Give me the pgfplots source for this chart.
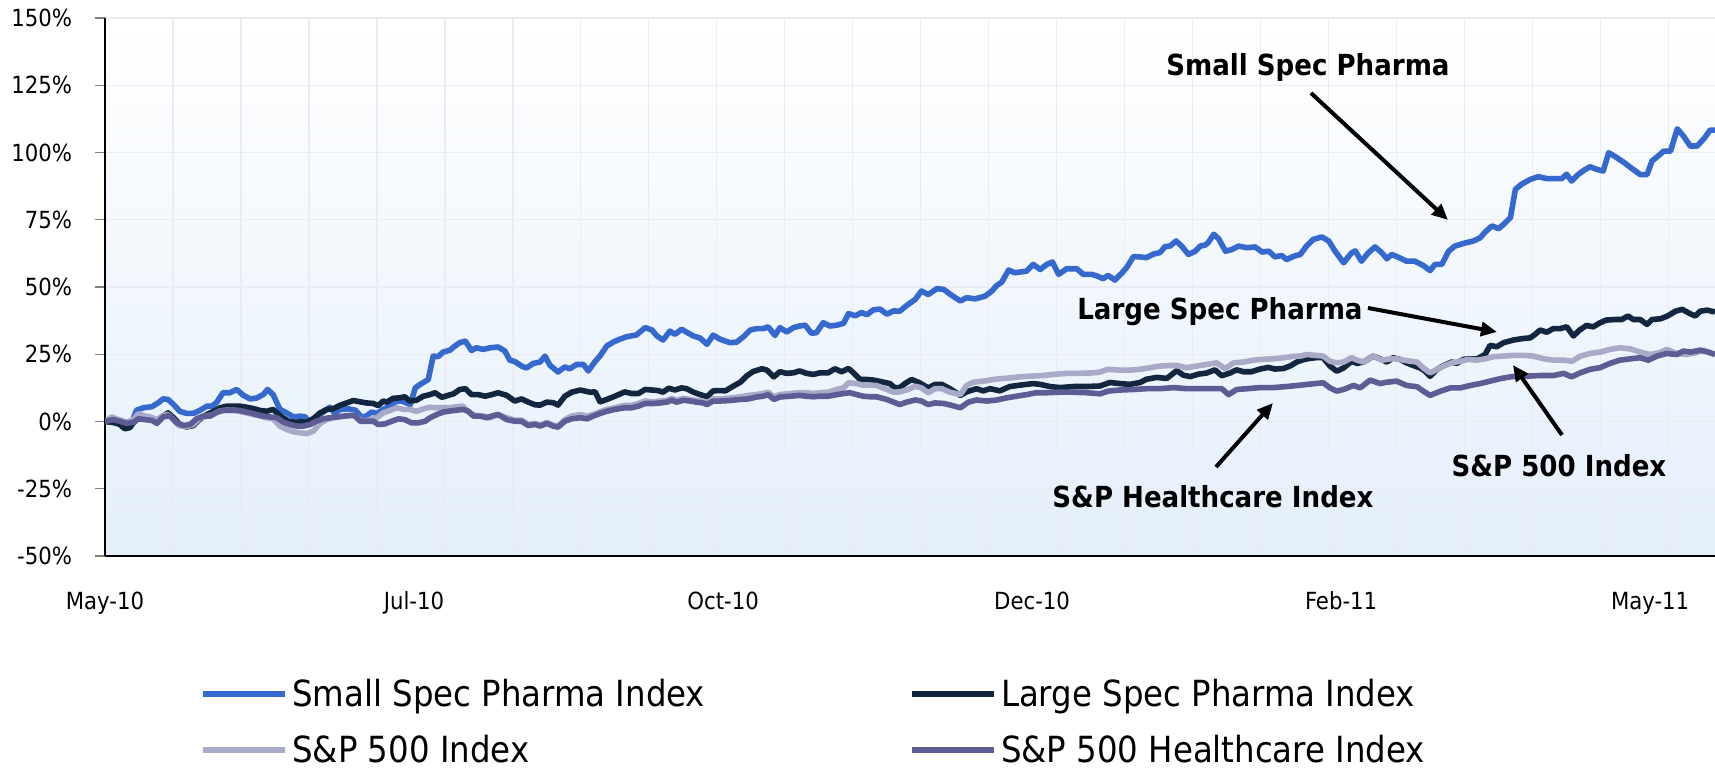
\documentclass[border=0pt]{standalone}
\usepackage{fontspec}
\setmainfont{DejaVu Sans Condensed}
\usepackage{pgfplots}
\usepackage{pgfplotstable}
\pgfplotsset{compat=1.18}
\usetikzlibrary{arrows.meta}

\definecolor{smallc}{RGB}{54,105,206}
\definecolor{largec}{RGB}{18,38,64}
\definecolor{spc}{RGB}{168,170,200}
\definecolor{hcc}{RGB}{94,92,148}
\definecolor{bgblue}{RGB}{228,239,251}
\definecolor{gridc}{RGB}{234,236,241}

% x = trading day since May-10, y = cumulative return in %
\pgfplotstableread{
x y
0 0
2.4 -0.7
3.5 -1.7
4.3 -0.5
5.1 4.2
6.2 5.1
7.6 5.5
8.6 6.9
9.4 8.4
10.2 8.2
11.1 6.3
12.1 3.8
13.2 3.0
14.3 3.0
15.4 4.2
16.5 5.7
17.3 5.7
18.1 7.2
19.1 10.7
20.2 10.7
21.3 11.9
22.4 9.7
23.5 8.4
24.5 8.7
25.6 10.0
26.3 11.9
27.2 10.0
28.3 4.5
29.4 3.2
30.5 1.7
31.6 2.0
32.4 1.7
32.9 0.1
33.7 1.0
35.1 3.2
36.4 5.3
37.2 3.0
38.0 4.5
39.4 4.7
40.5 4.2
41.5 1.7
42.3 2.0
43.1 3.5
44.0 3.0
45.0 4.5
46.1 5.7
47.2 7.6
48.0 7.6
48.8 6.9
49.4 6.3
50.2 12.5
51.0 13.8
52.3 15.6
53.1 24.3
53.9 24.1
54.7 25.8
55.8 26.5
56.6 28.0
57.4 29.3
58.3 29.9
59.3 26.4
60.1 27.4
61.2 26.8
62.3 27.4
63.6 27.7
64.7 26.2
65.5 22.8
66.3 22.3
67.4 20.6
68.2 19.9
69.3 21.6
70.4 22.1
71.2 24.3
72.0 20.9
73.3 18.4
74.4 20.3
75.2 19.6
76.3 21.2
77.4 21.2
78.2 18.8
79.3 22.3
80.1 24.4
81.2 28.1
82.3 29.6
83.3 30.6
84.4 31.5
86.0 32.2
87.4 34.9
88.5 34.0
89.3 31.8
90.3 30.3
91.4 33.6
92.2 32.4
93.3 34.3
94.4 32.8
95.2 31.8
96.3 31.0
97.4 28.7
98.4 32.1
99.5 30.6
101.1 29.3
102.2 29.5
103.3 31.5
104.4 34.0
105.4 34.5
106.5 34.5
107.3 35.2
108.4 32.0
109.2 34.9
110.3 33.3
111.4 34.9
112.4 35.5
113.3 35.8
114.3 32.8
115.1 33.0
116.2 36.7
117.3 35.5
118.4 35.8
119.5 36.5
120.3 40.1
121.4 39.3
122.4 40.5
123.3 39.7
124.3 41.5
125.4 41.8
126.5 39.9
127.6 41.1
128.6 41.0
129.7 43.1
131.1 45.4
132.1 48.5
133.2 47.2
134.6 49.4
135.7 49.1
137.0 46.9
138.4 44.8
139.4 46.0
140.8 45.6
142.4 46.6
143.5 48.5
144.3 50.6
145.1 51.8
146.2 56.3
147.2 55.3
149.1 55.9
150.2 58.4
151.3 56.5
152.4 58.4
153.3 59.3
154.3 54.7
155.6 56.8
157.2 56.8
158.3 54.7
159.6 54.7
160.5 54.1
161.5 53.1
162.3 54.3
163.4 52.6
164.5 55.1
165.3 57.2
166.4 61.3
167.4 61.2
168.5 60.9
169.6 62.2
170.7 62.8
171.5 65.0
172.3 65.2
173.3 67.1
174.2 65.2
175.3 62.1
176.4 63.3
177.2 65.2
178.0 65.6
178.5 66.5
179.4 69.6
180.2 67.9
181.3 63.3
182.3 63.9
183.4 65.2
184.8 64.6
186.1 64.9
187.2 63.0
188.3 63.3
189.3 61.2
190.4 61.7
191.2 60.2
192.3 61.4
193.4 62.1
194.4 65.2
195.5 67.7
196.9 68.6
198.0 67.1
199.0 63.4
200.4 59.0
201.7 62.7
202.3 63.4
203.3 59.6
204.4 62.7
205.5 64.9
206.6 62.7
207.4 60.5
208.2 62.1
209.5 60.8
210.6 59.6
211.9 59.6
213.3 58.0
214.4 56.1
215.2 58.4
216.3 58.4
217.4 63.3
218.4 65.2
219.8 66.2
221.4 67.1
222.5 68.3
223.3 70.4
224.4 72.7
225.5 71.7
226.3 73.3
227.4 75.8
228.2 86.3
229.2 88.2
230.6 90.0
231.9 91.0
233.3 90.3
234.9 90.3
235.7 90.3
236.5 91.9
237.3 89.4
238.4 91.9
239.5 93.7
240.3 94.7
241.4 93.7
242.4 93.1
243.3 99.9
244.4 98.4
245.7 96.4
246.9 94.3
248.4 91.8
249.5 91.8
250.3 96.8
251.4 98.9
252.2 100.5
253.3 100.5
254.4 108.8
255.4 106.1
256.5 102.4
257.6 102.4
258.7 105.1
259.7 108.3
260.5 108.3
}\smallspec

\pgfplotstableread{
x y
0 0
1.35 -0.3
2.4 -1.1
3.2 -2.7
4.0 -2.3
4.6 -0.5
5.4 1.4
6.5 1.0
7.6 0.7
8.6 0.1
9.4 2.0
10.2 3.2
11.1 1.4
12.1 -1.1
13.2 -2.0
14.3 -1.5
15.4 1.0
16.5 2.6
17.5 3.7
18.6 5.1
19.7 5.7
20.8 5.7
21.8 5.7
22.9 5.3
24.0 4.8
25.1 4.1
26.2 3.8
27.2 4.5
27.8 3.2
28.6 1.7
29.7 0.1
30.7 -0.3
31.8 -0.1
32.6 -0.3
33.7 1.0
34.8 3.2
35.9 4.5
36.9 4.7
38.0 6.0
39.1 6.9
40.2 7.8
41.3 7.3
42.3 6.9
43.4 6.7
44.2 5.9
45.0 7.6
45.6 7.2
46.6 8.6
47.7 8.8
48.5 9.2
49.3 7.6
50.4 7.9
51.5 9.4
52.6 10.0
53.4 10.7
54.5 9.0
55.5 9.7
56.4 10.3
57.4 11.9
58.3 12.2
59.3 10.0
60.4 10.0
61.5 9.4
62.6 10.0
63.6 10.7
65.0 9.7
66.3 7.6
67.4 8.4
68.5 7.2
69.6 6.2
70.4 6.1
71.5 7.2
72.5 7.0
73.3 6.1
74.4 9.4
75.5 10.9
76.9 11.7
77.7 11.3
78.5 10.9
79.3 11.0
80.1 7.3
81.2 8.2
82.5 9.4
84.1 11.0
85.2 10.4
86.3 10.4
87.4 11.9
88.5 11.7
89.5 11.5
90.3 10.9
91.2 12.4
92.2 11.7
93.3 12.5
94.1 12.2
95.2 10.9
96.3 10.0
97.4 9.2
98.4 11.4
99.5 11.5
100.4 11.4
101.4 12.8
102.8 14.6
103.8 16.9
104.9 18.6
106.3 19.6
107.1 19.1
108.2 16.6
109.2 18.5
110.3 17.9
111.4 18.1
112.4 18.8
113.5 17.9
114.6 17.5
115.7 18.1
117.0 18.1
118.1 19.6
119.2 18.5
120.3 19.7
121.1 18.1
122.2 15.6
123.3 15.6
124.3 15.4
125.4 14.9
127.0 14.1
127.8 12.5
128.6 12.6
129.5 14.2
130.5 15.6
131.6 14.6
133.2 12.5
134.3 13.8
135.4 13.8
136.7 12.2
138.4 9.7
139.4 11.0
141.0 12.2
142.1 11.4
143.2 12.2
144.8 11.4
146.4 13.0
148.0 13.5
150.2 14.1
151.3 13.8
152.9 13.0
154.5 12.6
156.7 13.0
158.8 13.0
161.0 13.2
162.6 14.5
164.2 14.1
165.8 13.8
167.5 14.5
168.5 15.7
170.2 16.4
171.8 16.0
173.4 18.9
174.5 17.2
175.6 16.7
176.9 17.6
178.2 18.0
179.6 19.2
180.7 17.0
182.0 18.0
183.1 19.2
184.2 18.5
185.5 18.5
186.9 19.5
188.2 20.1
189.3 19.5
190.7 19.7
191.8 20.7
192.9 22.2
193.9 23.0
195.0 23.5
196.3 23.8
197.1 23.7
198.2 20.6
199.3 18.7
200.4 19.9
201.7 22.4
202.6 21.6
203.6 22.1
205.2 24.3
206.3 23.3
207.4 22.1
208.4 23.7
209.5 23.1
210.6 21.8
211.7 20.8
212.8 19.9
213.6 18.7
214.4 16.8
215.5 19.3
216.6 20.8
217.9 22.1
218.7 21.6
219.8 23.1
220.9 23.3
222.0 23.3
222.8 24.3
223.3 24.9
224.1 28.3
225.2 27.8
226.3 29.3
227.9 30.3
229.3 30.8
230.6 31.1
231.4 32.4
232.2 34.0
233.3 33.2
234.3 34.5
235.4 34.5
236.5 35.2
237.6 31.8
238.6 34.0
239.7 35.7
240.8 35.2
241.9 36.7
242.9 37.7
244.3 37.9
245.4 37.9
246.4 39.2
247.3 37.9
248.4 37.9
249.5 36.1
250.3 37.9
251.7 38.2
252.8 39.2
254.1 41.0
255.2 41.7
256.2 40.4
257.3 39.2
258.1 41.0
259.2 41.4
260.5 40.7
}\largespec

\pgfplotstableread{
x y
0 0
1.1 1.7
2.2 0.7
3.5 -0.3
4.6 0.7
5.4 2.9
6.5 2.0
7.3 1.7
8.4 0.7
9.4 2.2
10.2 2.6
11.3 0.1
12.1 -1.7
13.5 -1.7
14.3 -1.1
15.4 1.4
16.5 2.0
17.5 2.6
18.6 3.9
19.7 4.2
20.8 4.2
21.8 3.8
22.9 3.2
24.0 2.6
25.1 2.0
26.2 1.4
27.2 1.0
28.3 -1.7
29.4 -3.0
30.5 -3.8
31.6 -4.2
32.6 -4.5
33.7 -3.6
34.8 -0.7
35.9 0.7
36.9 1.4
38.0 1.7
39.1 2.2
40.2 2.3
41.0 1.0
41.8 0.1
42.9 0.7
44.0 1.4
45.0 3.2
46.1 4.1
47.2 5.1
48.3 4.5
49.3 4.5
50.4 3.8
51.5 4.7
52.6 5.3
53.7 5.1
54.7 5.1
55.8 5.1
56.9 5.5
57.9 5.7
59.0 3.2
60.1 2.2
61.2 2.0
62.3 1.4
63.6 2.6
65.0 1.4
66.3 0.5
67.4 0.5
68.5 -1.1
69.6 -0.7
70.4 -1.4
71.5 -0.3
72.5 -1.4
73.3 -1.7
74.4 0.7
75.5 2.0
76.9 2.6
78.0 2.0
79.0 2.6
80.1 3.6
81.2 4.5
82.5 5.1
84.1 6.0
85.2 6.0
86.3 6.7
87.4 7.6
88.8 7.3
89.8 7.6
90.9 7.8
91.7 8.6
92.5 7.9
93.6 8.6
94.7 8.2
95.7 7.8
96.8 7.6
97.4 6.9
98.4 8.4
99.5 8.4
101.1 8.7
102.8 9.2
104.1 9.7
105.4 10.0
106.5 10.4
107.3 10.9
108.2 9.2
109.2 10.0
110.9 10.4
112.4 10.7
113.5 10.7
114.6 10.4
115.7 10.7
117.0 10.9
118.4 11.9
119.5 12.5
120.3 14.4
121.6 14.1
122.7 13.5
123.8 13.5
124.8 13.4
126.5 11.9
127.6 10.9
128.6 11.0
129.7 11.7
131.1 13.1
132.1 12.5
133.2 10.7
134.3 12.2
135.4 12.2
136.7 10.9
138.4 10.0
139.4 13.4
140.5 14.6
142.1 15.0
143.7 15.6
144.8 15.9
146.4 16.2
148.0 16.6
150.2 16.9
151.8 17.1
153.4 17.5
155.6 17.9
157.8 17.9
160.0 18.1
161.0 18.4
162.3 19.4
164.2 19.1
165.8 19.1
167.5 19.4
169.1 20.0
170.7 20.6
172.3 20.8
173.4 20.8
175.0 20.0
176.6 20.6
178.2 21.2
179.9 21.8
181.2 19.6
182.6 21.8
184.2 22.1
185.8 22.8
187.4 23.1
189.0 23.3
190.7 23.7
192.3 24.2
193.4 24.3
194.4 24.9
195.8 24.6
197.1 24.3
198.2 22.4
199.3 21.8
200.4 22.1
201.7 23.7
202.6 22.8
203.6 22.1
205.2 24.3
206.6 22.8
208.0 23.3
209.0 23.3
210.1 22.8
211.2 22.4
212.3 22.1
213.3 19.9
214.4 18.1
215.5 19.3
216.6 20.6
217.9 21.8
219.3 22.4
220.6 23.1
222.0 22.8
223.3 23.3
224.7 24.1
226.3 24.3
227.9 24.6
229.5 24.6
231.1 24.3
232.8 23.3
234.4 22.8
236.0 22.8
237.4 22.4
238.7 24.3
240.3 25.3
241.9 25.8
243.5 26.8
245.1 27.4
246.8 27.0
248.4 25.8
250.0 24.9
251.4 25.5
252.7 26.8
254.3 25.3
255.9 24.9
257.3 25.5
258.6 26.5
259.7 25.5
260.5 24.9
}\spfive

\pgfplotstableread{
x y
0 0
1.35 0.7
2.4 0.1
3.5 -0.7
4.6 -0.3
5.4 1.0
6.5 0.7
7.6 0.4
8.4 -0.7
9.4 1.7
10.5 2.2
11.6 -0.5
12.7 -1.5
13.8 -1.1
14.8 1.0
15.9 2.0
17.0 2.0
18.1 3.5
19.1 4.1
20.2 4.2
21.3 4.2
22.4 3.8
23.5 3.2
24.5 2.6
25.6 2.0
26.7 1.7
27.8 1.4
28.9 -0.3
29.9 -1.1
31.0 -1.7
32.1 -1.7
33.2 -1.1
34.2 0.1
35.3 1.0
36.4 1.4
37.5 1.7
38.6 2.0
39.6 2.2
40.4 2.2
41.3 0.1
42.3 0.1
43.4 0.1
44.2 -1.1
45.3 -0.9
46.4 0.1
47.5 1.0
48.5 0.7
49.6 -0.5
50.7 -0.5
51.8 0.1
52.6 1.4
53.7 2.6
54.7 3.5
55.8 3.9
56.9 4.2
57.9 4.5
58.8 3.8
59.6 2.0
60.7 2.0
61.8 1.4
62.8 2.2
63.6 2.6
65.0 0.7
66.3 0.1
67.4 0.1
68.5 -1.5
69.6 -1.1
70.4 -1.7
71.5 -0.7
72.5 -1.7
73.3 -2.1
74.4 0.1
75.5 1.0
76.9 1.4
78.0 1.0
79.0 2.0
80.1 3.0
81.2 3.8
82.5 4.5
84.1 5.1
85.2 5.1
86.3 5.7
87.4 6.7
88.8 6.7
89.8 6.9
90.9 7.2
91.7 7.9
92.5 7.2
93.6 7.9
94.7 7.6
95.7 7.2
96.8 6.9
97.4 6.3
98.4 7.6
99.5 7.6
101.1 7.8
102.8 8.2
104.1 8.4
105.4 9.1
106.5 9.4
107.3 10.0
108.2 8.2
109.2 9.1
110.9 9.4
112.4 9.7
113.5 9.4
114.6 9.2
115.7 9.4
117.0 9.4
118.4 10.0
119.5 10.4
120.5 10.7
121.6 10.0
122.7 9.4
123.8 9.2
124.8 9.2
126.5 8.2
127.6 7.2
128.6 6.3
129.7 7.2
131.1 8.0
132.1 7.6
133.2 6.3
134.3 6.9
135.7 6.7
137.0 6.0
138.4 5.1
139.7 7.2
141.0 8.0
142.7 7.6
144.3 8.0
145.9 8.8
147.5 9.4
149.1 10.0
150.7 10.7
152.4 10.7
154.5 10.9
156.7 10.9
158.8 10.7
161.0 10.3
162.3 11.3
164.2 11.7
166.4 11.9
168.5 12.2
170.7 12.2
172.9 12.6
175.0 12.2
177.2 12.2
179.4 12.2
180.7 12.2
181.8 10.0
183.1 11.9
184.8 12.2
186.9 12.6
189.0 12.6
191.2 13.0
193.4 13.5
195.0 13.9
197.1 14.4
198.2 12.5
199.3 11.3
200.4 11.9
202.0 13.4
203.1 12.5
204.7 15.4
206.3 14.1
207.4 14.6
209.0 15.0
210.6 13.4
212.3 12.9
213.3 11.3
214.4 9.7
216.1 11.3
217.7 12.5
219.3 12.5
220.9 13.4
222.5 14.1
224.1 15.0
225.7 15.9
227.4 16.6
229.0 16.9
230.6 16.9
232.2 17.1
234.4 17.1
236.0 17.9
237.3 16.6
238.7 18.1
240.3 19.4
241.9 20.0
243.5 21.6
245.1 22.8
246.8 23.3
248.4 23.7
249.7 22.8
251.1 24.3
252.7 25.3
254.3 24.9
255.4 26.2
256.5 25.8
258.1 26.5
259.4 25.8
260.5 24.9
}\healthcare

\begin{document}
\begin{tikzpicture}
\useasboundingbox (0,0) rectangle (857.5bp,384.5bp);
\begin{axis}[
    at={(52.5bp,106.5bp)}, anchor=south west,
    scale only axis,
    width=805bp, height=269bp,
    xmin=0, xmax=260.5,
    ymin=-50, ymax=150,
    axis lines*=left,
    axis line style={black, line width=0.7bp},
    axis background/.style={shade, top color=white, bottom color=bgblue},
    xtick={0,50,100,150,200,250},
    xticklabels={May-10,Jul-10,Oct-10,Dec-10,Feb-11,May-11},
    xtick style={draw=none},
    minor xtick={11,22,...,253},
    minor x tick style={draw=none},
    xminorgrids=true,
    minor grid style={gridc, line width=0.6bp},
    ytick={-50,-25,0,25,50,75,100,125,150},
    yticklabels={-50\%,-25\%,0\%,25\%,50\%,75\%,100\%,125\%,150\%},
    ymajorgrids=true,
    major grid style={gridc, line width=0.6bp},
    tick align=outside,
    major tick length=5bp,
    ytick style={gray, line width=0.6bp},
    tick label style={font=\fontsize{11.8bp}{13bp}\selectfont},
    xticklabel style={yshift=-9.5bp},
    yticklabel style={xshift=-8bp},
    every axis plot/.append style={line width=2.8bp, line join=round, mark=none},
    legend columns=2,
    legend cell align=left,
    legend image code/.code={\draw[#1, line width=3bp] (0bp,0bp) -- (41bp,0bp);},
    legend style={
        at={(axis description cs:0.059,-0.3090)}, anchor=west,
        draw=none, fill=none, inner sep=0pt,
        font=\fontsize{18bp}{20bp}\selectfont,
        row sep=9bp,
        /tikz/every even column/.append style={column sep=100bp}
    },
]
\addplot[smallc] table {\smallspec};
\addlegendentry{Small Spec Pharma Index}
\addplot[largec] table {\largespec};
\addlegendentry{Large Spec Pharma Index}
\addplot[spc] table {\spfive};
\addlegendentry{S\&P 500 Index}
\addplot[hcc] table {\healthcare};
\addlegendentry{S\&P 500 Healthcare Index}
\end{axis}

% annotations, in pixel units of the 1715 x 769 frame
\begin{scope}[x=0.5bp, y=-0.5bp, shift={(0bp,384.5bp)},
    lab/.style={font=\bfseries\fontsize{14.5bp}{16bp}\selectfont, anchor=base, inner sep=0pt},
    arr/.style={line width=2bp, -{Triangle[length=8bp,width=7bp]}}]
\node[lab] at (1308,76) {Small Spec Pharma};
\node[lab] at (1220,320) {Large Spec Pharma};
\node[lab] at (1213,508) {S\&P Healthcare Index};
\node[lab] at (1559,477) {S\&P 500 Index};
\draw[arr] (1311,93) -- (1448,220);
\draw[arr] (1368,308) -- (1497,332);
\draw[arr] (1216,467) -- (1273,403);
\draw[arr] (1562,435) -- (1513,365);
\end{scope}
\end{tikzpicture}
\end{document}
